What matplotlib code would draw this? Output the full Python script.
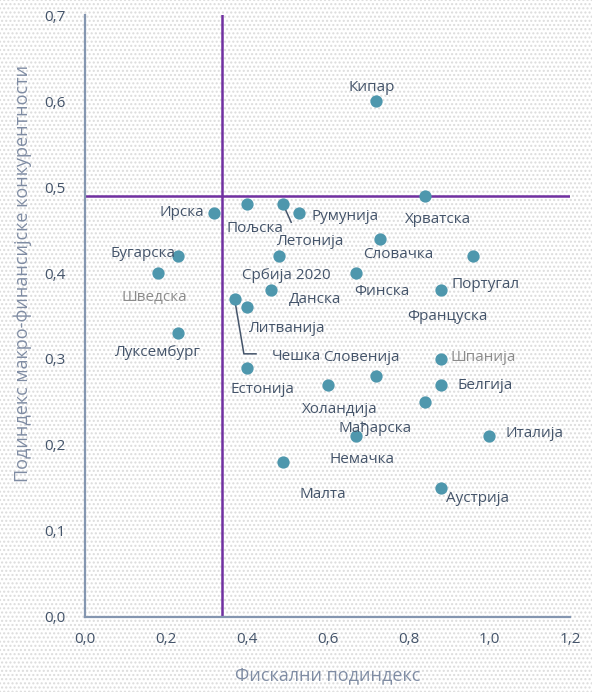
import matplotlib.pyplot as plt
from matplotlib.patches import Rectangle
from matplotlib.ticker import FuncFormatter

countries = ['Кипар', 'Хрватска', 'Ирска', 'Летонија', 'Пољска', 'Румунија',
             'Србија 2020', 'Бугарска', 'Шведска', 'Данска', 'Чешка', 'Литванија',
             'Луксембург', 'Естонија', 'Холандија', 'Словачка', 'Француска', 'Финска',
             'Португал', 'Словенија', 'Шпанија', 'Белгија', 'Мађарска', 'Италија',
             'Немачка', 'Малта', 'Аустрија']
fiscal = [0.72, 0.84, 0.32, 0.40, 0.49, 0.53,
          0.48, 0.23, 0.18, 0.46, 0.37, 0.40,
          0.23, 0.40, 0.60, 0.73, 0.96, 0.67,
          0.88, 0.72, 0.88, 0.88, 0.84, 1.00,
          0.67, 0.49, 0.88]
macro = [0.60, 0.49, 0.47, 0.48, 0.48, 0.47,
         0.42, 0.42, 0.40, 0.38, 0.37, 0.36,
         0.33, 0.29, 0.27, 0.44, 0.42, 0.40,
         0.38, 0.28, 0.30, 0.27, 0.25, 0.21,
         0.21, 0.18, 0.15]
x_threshold = 0.34
y_threshold = 0.49

# label placement (data coords of label centre)
label_pos = {
    'Кипар': (0.710, 0.616), 'Хрватска': (0.873, 0.462), 'Ирска': (0.240, 0.470),
    'Пољска': (0.421, 0.452), 'Румунија': (0.643, 0.466), 'Летонија': (0.557, 0.437),
    'Бугарска': (0.143, 0.423), 'Шведска': (0.171, 0.371), 'Србија 2020': (0.497, 0.397),
    'Данска': (0.569, 0.369), 'Литванија': (0.500, 0.336), 'Луксембург': (0.181, 0.307),
    'Чешка': (0.522, 0.303), 'Естонија': (0.438, 0.265), 'Словачка': (0.774, 0.421),
    'Финска': (0.735, 0.378), 'Португал': (0.990, 0.387), 'Француска': (0.896, 0.350),
    'Словенија': (0.683, 0.302), 'Шпанија': (0.985, 0.302), 'Белгија': (0.990, 0.269),
    'Холандија': (0.631, 0.241), 'Мађарска': (0.717, 0.219), 'Италија': (1.113, 0.213),
    'Немачка': (0.685, 0.183), 'Малта': (0.589, 0.142), 'Аустрија': (0.970, 0.138),
}
grey_labels = ['Шведска', 'Шпанија']

plt.rcParams['font.family'] = ['Open Sans', 'DejaVu Sans']

text_col = '#44546a'
axis_col = '#8496b0'
point_col = '#4e97ad'
line_col = '#7030a0'

fig = plt.figure(figsize=(5.92, 6.92), dpi=100)
fig.patches.append(Rectangle((0, 0), 1, 1, transform=fig.transFigure, facecolor='white',
                             edgecolor='#dcdcdc', hatch='....', lw=0, zorder=-10))
ax = fig.add_axes([0.1436, 0.1084, 0.8194, 0.8699])
ax.patch.set_alpha(0)

ax.set_xlim(0, 1.2)
ax.set_ylim(0, 0.7)
ax.axvline(x_threshold, color=line_col, lw=1.8, zorder=1)
ax.axhline(y_threshold, color=line_col, lw=1.8, zorder=1)
ax.scatter(fiscal, macro, s=78, color=point_col, zorder=3, linewidths=0)

for name in countries:
    lx, ly = label_pos[name]
    col = '#8c8c8c' if name in grey_labels else text_col
    ax.text(lx, ly, name, ha='center', va='center', fontsize=11, color=col, zorder=4)

# leader lines
i = countries.index('Пољска')
ax.plot([fiscal[i], 0.510], [macro[i], 0.459], color=text_col, lw=1.1, zorder=2)
i = countries.index('Чешка')
ax.plot([fiscal[i], 0.393, 0.423], [macro[i], 0.306, 0.306], color=text_col, lw=1.1, zorder=2)

ax.set_xticks([0, 0.2, 0.4, 0.6, 0.8, 1.0, 1.2])
ax.set_yticks([0, 0.1, 0.2, 0.3, 0.4, 0.5, 0.6, 0.7])
fmt = FuncFormatter(lambda v, p: f'{v:.1f}'.replace('.', ','))
ax.xaxis.set_major_formatter(fmt)
ax.yaxis.set_major_formatter(fmt)
ax.tick_params(length=0, labelsize=11, labelcolor=text_col, pad=11)
ax.tick_params(axis='y', pad=14)

for s in ['top', 'right']:
    ax.spines[s].set_visible(False)
for s in ['left', 'bottom']:
    ax.spines[s].set_color(axis_col)
    ax.spines[s].set_linewidth(1.6)

ax.set_xlabel('Фискални подиндекс', fontsize=13, color='#7f8ca3', labelpad=14)
ax.set_ylabel('Подиндекс макро-финансијске конкурентности', fontsize=13,
              color='#7f8ca3')
ax.yaxis.set_label_coords(-0.11, 0.57)

fig.savefig('out.png', dpi=100)
